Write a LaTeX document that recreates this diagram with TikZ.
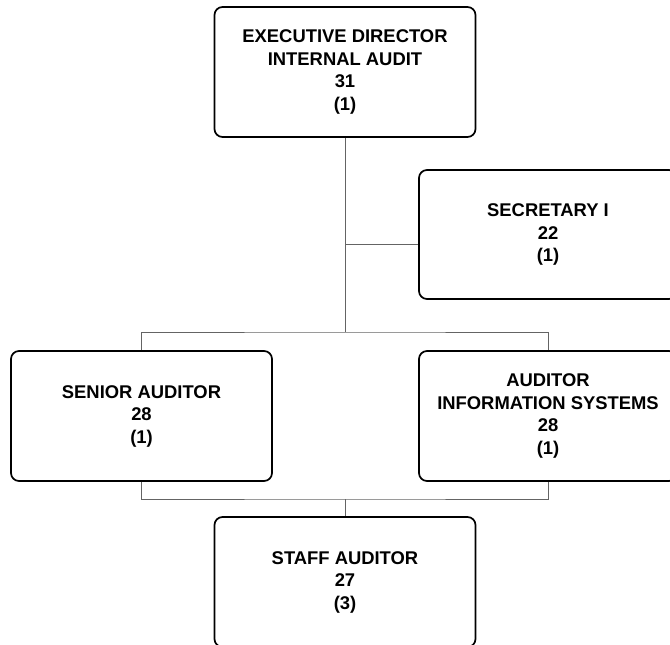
\documentclass[tikz,border=0pt]{standalone}
\usepackage{fontspec}
\setmainfont{Liberation Sans}
\usepackage{xcolor}
\usepackage{tikz}
\usetikzlibrary{shapes,arrows,positioning}

\definecolor{linkgray}{RGB}{100,100,100}

\tikzset{
    post/.style={draw=black, line width=1.7pt, rounded corners=8pt, fill=white,
        minimum width=261pt, minimum height=130pt, align=center,
        font=\fontsize{18.4}{22.5}\selectfont\bfseries, inner sep=0pt},
    link/.style={draw=linkgray, line width=1pt}
}

\begin{document}
\begin{tikzpicture}[x=1pt,y=-1pt]
    % page frame
    \clip (0,0) rectangle (670,645);
    \fill[white] (0,0) rectangle (670,645);

    % Junction points of the lines
    \coordinate (topbar) at (345,332);
    \coordinate (secjoin) at (345,244);
    \coordinate (botbar) at (345,499);

    % Executive director
    \node[post] (director) at (345,72) {EXECUTIVE DIRECTOR\\INTERNAL AUDIT\\31\\(1)};

    % Secretary I
    \node[post, minimum width=258pt, minimum height=129pt] (secretary) at (548,234.5) {SECRETARY I\\22\\(1)};

    % Senior auditor and auditor IS
    \node[post] (senior) at (141.5,416) {SENIOR AUDITOR\\28\\(1)};
    \node[post, minimum width=258pt] (auditoris) at (548,416) {AUDITOR\\INFORMATION SYSTEMS\\28\\(1)};

    % Staff auditor
    \node[post] (staff) at (345,582) {STAFF AUDITOR\\27\\(3)};

    % Lines
    \draw[link] (director.south) -- (topbar);
    \draw[link] (secjoin) -- (secjoin -| secretary.west);
    \draw[link] (senior.north) |- (topbar) -| (auditoris.north);
    \draw[link] (senior.south) |- (botbar) -| (auditoris.south);
    \draw[link] (botbar) -- (staff.north);
\end{tikzpicture}
\end{document}
